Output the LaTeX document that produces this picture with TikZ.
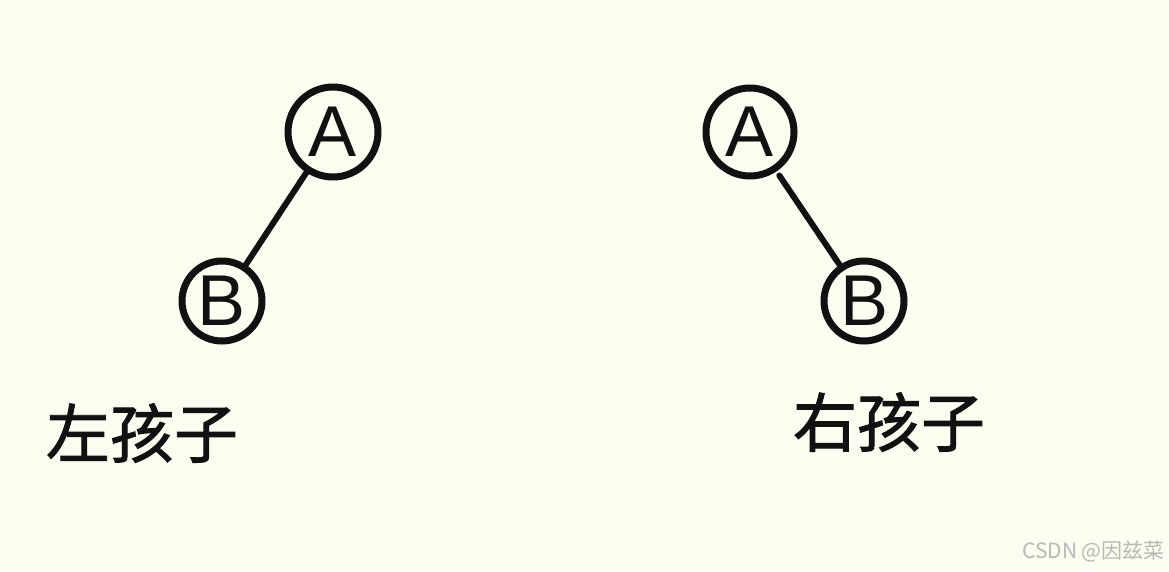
\documentclass[tikz,border=0pt]{standalone}
\usepackage{fontspec}
\setmainfont{Liberation Sans}
\newfontfamily\cjk{Noto Sans CJK SC}
\newfontfamily\cjkheavy{Noto Sans CJK SC}[FakeBold=1.5]
\definecolor{paper}{HTML}{FDFCF0}
\definecolor{ink}{HTML}{111111}
\definecolor{mark}{HTML}{B8B8B8}
\begin{document}
\begin{tikzpicture}[x=1pt,y=-1pt,
  treenode/.style={circle,draw=ink,line width=7pt,inner sep=0pt,text=ink,font=\fontsize{72}{72}\selectfont},
  edge/.style={draw=ink,line width=6pt,line cap=round},
  label/.style={text=ink,font=\cjkheavy\fontsize{64}{64}\selectfont,inner sep=0pt}]
\fill[paper] (0,0) rectangle (1169,571);
\useasboundingbox (0,0) rectangle (1169,571);
\node[treenode,minimum size=90pt] (la) at (333,132) {A};
\node[treenode,minimum size=80pt] (lb) at (222,301) {B};
\draw[edge] (la) -- (lb);
\node[treenode,minimum size=88pt] (ra) at (750,132) {A};
\node[treenode,minimum size=80pt] (rb) at (864,301) {B};
\draw[edge,shorten <=5pt] (ra) -- (rb);
\node[label] (lt) at (142,433) {左孩子};
\node[label] (rt) at (889,422) {右孩子};
\node[anchor=east,text=mark,font=\cjk\fontsize{21}{21}\selectfont,inner sep=0pt] (wm) at (1165,551) {CSDN @因兹菜};
\end{tikzpicture}
\end{document}
